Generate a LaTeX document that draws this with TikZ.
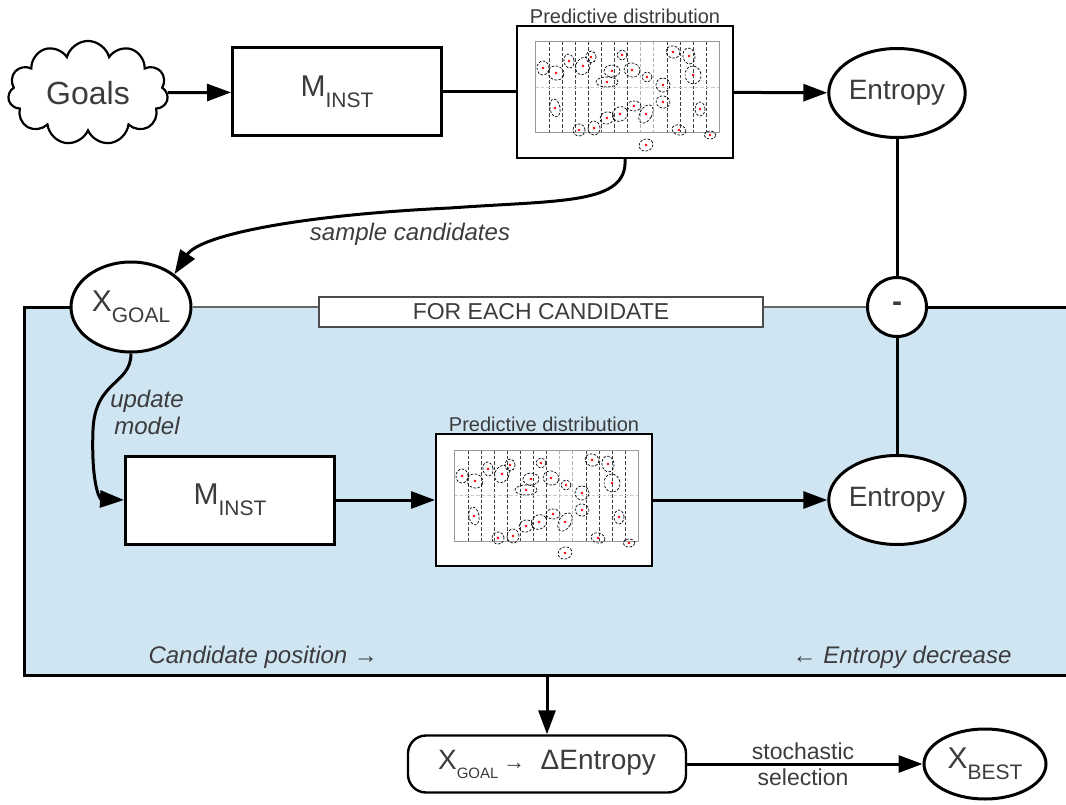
\documentclass[tikz,border=0pt]{standalone}
\usepackage{fontspec}
\setmainfont{Liberation Sans}
\usetikzlibrary{arrows.meta, positioning, shapes.geometric, shapes.symbols}

\newcommand{\lowsub}[1]{\raisebox{-11pt}{\fontsize{21}{24}\selectfont #1}}
\newcommand{\smallsub}[1]{\raisebox{-9pt}{\fontsize{15}{18}\selectfont #1}}

\begin{document}
\begin{tikzpicture}[x=1pt, y=-1pt, line join=miter,
		bigfont/.style={font=\fontsize{30}{36}\selectfont},
		lblfont/.style={font=\itshape\fontsize{24}{27}\selectfont, text=textgray},
		modelbox/.style={draw, line width=3pt, fill=white, minimum width=209pt, minimum height=88pt, bigfont, text=textgray},
		plotbox/.style={draw, line width=2pt, fill=white, minimum width=216pt, minimum height=132pt},
		plottitle/.style={inner sep=1pt, font=\fontsize{20}{24}\selectfont, text=textgray},
		oval/.style={ellipse, draw, line width=3pt, fill=white, inner sep=0pt, text=textgray},
		entropy/.style={oval, minimum width=133pt, minimum height=89pt, font=\fontsize{28}{34}\selectfont},
		flow/.style={line width=3pt, -{Triangle[length=24pt, width=17pt]}},
		link/.style={line width=3pt},
		distplot/.pic={
			\begin{scope}[shift={(-90,-50)}]
				\foreach \i in {0,...,6,9,10,11,12}
				\draw[black!75, line width=0.8pt, dash pattern=on 3.5pt off 2pt] ({14+13.1*\i},0) -- ({14+13.1*\i},91);
				\foreach \i in {7,8}
				\draw[black!30, line width=0.8pt, dash pattern=on 3.5pt off 2pt] ({14+13.1*\i},0) -- ({14+13.1*\i},91);
				\draw[black!20, line width=0.8pt, dash pattern=on 3.5pt off 2pt] (0,45.5) -- (184,45.5);
				\draw[black!40, line width=1pt] (0,0) rectangle (184,91);
				\foreach \ex/\ey/\rx/\ry/\rot in {8/26/6/7/0, 21/31/8/7/-20, 34/19/5/7/10, 48/24/7/9/-25,
						56/15/5/6/0, 20/66/5/9/10, 44/88/6/6/0, 59/86/6/7/0, 72/76/7/6/20, 85/72/8/7/35,
						99/64/7/5/0, 111/72/6/10/-30, 111/103/7/6/20, 72/40/11/5/0, 77/29/8/6/0, 87/13/5/5/0,
						97/28/8/7/-20, 112/35/5/5/0, 128/43/7/7/0, 128/60/7/6/-10, 138/10/7/6/-20,
						154/14/6/8/10, 158/33/8/9/10, 165/67/5/7/0, 144/88/7/5/-15, 175/93/6/4/0}
				{
					\draw[black, line width=0.7pt, dash pattern=on 2.5pt off 1.5pt, rotate around={\rot:(\ex,\ey)}] (\ex,\ey) ellipse [x radius=\rx pt, y radius=\ry pt];
					\fill[red] (\ex,\ey) circle [radius=1.4pt];
				}
			\end{scope}
		}
	]
	% Colors
	\definecolor{textgray}{RGB}{60,60,62}   % text
	\definecolor{loopblue}{RGB}{207,229,242} % candidate loop
	
	\useasboundingbox (0,0) rectangle (1066,805);
	
	% Candidate loop region
	\fill[loopblue] (24,307) rectangle (1066,675);
	\coordinate (loopnw) at (24,307);
	\coordinate (loopsw) at (24,675);
	\coordinate (loopse) at (1066,675);
	\coordinate (loopne) at (1066,307);
	\coordinate (loopout) at (547,675);
	
	% Top row
	\node[cloud, cloud puffs=11, aspect=1.6, draw, line width=2.2pt, fill=white, minimum width=160pt, minimum height=100pt, font=\fontsize{32}{38}\selectfont, text=textgray] (goals) at (88,93) {Goals};
	\node[modelbox] (minst) at (337,92) {M\lowsub{INST}};
	\node[plotbox] (pdtop) at (625,92) {};
	\pic at (pdtop) {distplot};
	\node[plottitle, above=0pt of pdtop] (pdtoptitle) {Predictive distribution};
	\node[entropy] (entop) at (897,93) {Entropy};
	
	% Loop nodes
	\node[oval, minimum width=120pt, minimum height=90pt, bigfont] (xgoal) at (131,307) {X\lowsub{GOAL}};
	\node[circle, draw, line width=3pt, fill=white, minimum size=59pt, inner sep=0pt, font=\bfseries\fontsize{30}{36}\selectfont, text=textgray] (minus) at (897,307) {-};
	\node[draw=black!70, line width=1.6pt, fill=white, minimum width=444pt, minimum height=30pt, font=\fontsize{23}{26}\selectfont, text=textgray] (foreach) at (541,312) {FOR EACH CANDIDATE};
	\node[modelbox] (mbot) at (230,500) {M\lowsub{INST}};
	\node[plotbox] (pdbot) at (544,500) {};
	\pic at (pdbot) {distplot};
	\node[plottitle, above=0pt of pdbot] (pdbottitle) {Predictive distribution};
	\node[entropy] (enbot) at (897,500) {Entropy};
	
	% Bottom row
	\node[draw, rounded corners=18pt, line width=2.4pt, fill=white, minimum width=278pt, minimum height=57pt, font=\fontsize{28}{34}\selectfont, text=textgray] (delta) at (547,764) {X\smallsub{GOAL}\,{\fontsize{22}{26}\selectfont →}\ \ ΔEntropy};
	\node[oval, minimum width=122pt, minimum height=70pt, bigfont] (xbest) at (985,764) {X\lowsub{BEST}};
	
	% Loop borders
	\draw[link] (xgoal.west) -- (loopnw) -- (loopsw) -- (loopse);
	\draw[black!60, line width=1.6pt] (xgoal.east) -- (foreach.west |- xgoal.east);
	\draw[black!60, line width=1.6pt] (foreach.east |- minus.west) -- (minus.west);
	\draw[link] (minus.east) -- (loopne);
	
	% Connectors
	\draw[flow] (goals) -- (minst);
	\draw[link] (minst) -- (pdtop);
	\draw[flow] (pdtop) -- (entop);
	\draw[link] (entop) -- (minus);
	\draw[link] (minus) -- (enbot);
	\draw[flow] (pdtop.south) .. controls (628,205) and (560,200) .. (450,208) .. controls (300,215) and (200,235) .. (xgoal.north east);
	\draw[flow] (xgoal.south) .. controls (131,385) and (95,380) .. (93,430) .. controls (91,485) and (100,499) .. (mbot.west);
	\draw[flow] (mbot) -- (pdbot);
	\draw[flow] (pdbot) -- (enbot);
	\draw[flow] (loopout) -- (delta);
	\draw[flow] (delta) -- (xbest);
	
	% Labels
	\node[lblfont] (samplelbl) at (410,234) {sample candidates};
	\node[lblfont, align=center] (updlbl) at (147,412) {update\\model};
	\node[lblfont, anchor=west] (candlbl) at (145,657) {Candidate position →};
	\node[lblfont, anchor=east] (entdeclbl) at (1015,657) {← Entropy decrease};
	\node[font=\fontsize{23}{26}\selectfont, text=textgray, align=center] (stochlbl) at (803,764) {stochastic\\selection};
	
\end{tikzpicture}
\end{document}
